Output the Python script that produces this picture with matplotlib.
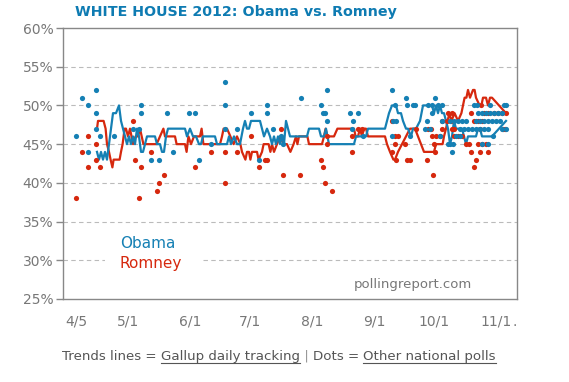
import matplotlib
matplotlib.use("Agg")
import matplotlib.pyplot as plt
from matplotlib.lines import Line2D
from matplotlib.patches import Rectangle

# x = days after April 5, 2012
tick_days = [0, 26, 57, 87, 118, 149, 179, 210]
tick_labels = ["4/5", "5/1", "6/1", "7/1", "8/1", "9/1", "10/1", "11/1"]
y_ticks = [25, 30, 35, 40, 45, 50, 55, 60]

# Gallup daily tracking (day, %)
obama_trend = [
    (10.5, 44), (11.5, 43), (12.5, 44), (13.5, 43), (14.5, 44), (15.5, 43), (16.5, 45),
    (17.5, 47), (18.5, 49), (20, 49), (21.5, 50), (22.5, 48), (23.5, 47), (24.5, 46),
    (25.5, 45), (26.5, 46), (27.5, 45), (28.5, 46), (29.5, 45), (30.5, 47), (31.5, 46),
    (32.5, 44), (33.5, 44), (34.5, 45), (35.5, 46), (39.5, 46), (40.5, 45), (42, 45),
    (43, 44), (44, 44), (45, 46), (46, 47), (54.5, 47), (55.5, 46), (57, 47), (58.5, 46),
    (60, 46), (61.5, 45), (62.5, 45), (63.5, 46), (69.5, 46), (70.5, 45), (75.5, 45),
    (76.5, 46), (77.5, 45), (79, 46), (80.5, 45), (82, 45), (83.5, 47), (84.5, 48),
    (85.5, 47), (86.5, 47), (87.5, 48), (92, 48), (93, 47), (94, 46), (95.5, 47),
    (97, 46), (98, 45), (99, 46), (100, 45), (101, 46), (102, 45), (103, 46), (104, 45),
    (105, 48), (106, 47), (107, 46), (115.5, 46), (116.5, 47), (121.5, 47), (122.5, 46),
    (124, 46), (125, 47), (125.7, 46), (126.5, 45), (139, 45), (140, 46), (145, 46),
    (146, 47), (154.5, 47), (155.5, 48), (156.5, 49), (158, 50), (160, 50), (161, 49),
    (162.5, 49), (163.5, 48), (165, 47), (166, 47), (167.5, 46), (168.5, 47), (170, 47),
    (172, 48), (173.5, 50), (178, 50), (179, 49), (180, 50), (181, 49), (182, 50),
    (183, 49), (184, 49), (185, 48), (186, 47), (187, 45), (188, 46), (189, 48),
    (190, 47), (193, 47), (194, 46), (195, 45), (196, 46), (200, 46), (201, 47),
    (202, 47), (203, 46), (208, 46), (215, 48),
]
romney_trend = [
    (10.5, 47), (11, 48), (13.8, 48), (14.8, 47), (15.5, 45), (16.5, 44), (17.3, 43),
    (18.2, 42), (18.8, 43), (21.8, 43), (22.5, 44), (23.3, 45), (24.3, 47), (25, 47),
    (26, 46), (27, 47), (28.5, 45), (29.8, 46), (31, 46), (32, 47), (33.7, 45), (40.3, 45),
    (42, 46), (43.7, 47), (44.5, 46), (49.5, 46), (50.3, 45), (54.5, 45), (55.3, 44),
    (56.2, 46), (57.5, 45), (59, 46), (62, 46), (62.8, 47), (63.7, 45), (72, 45), (73, 46),
    (73.8, 47), (75.5, 47), (77.2, 46), (78.8, 45), (80.5, 46), (82.2, 45), (83, 44),
    (84.7, 43), (85.5, 44), (86.5, 44), (87.2, 43), (88, 44), (90.5, 44), (91.3, 43),
    (93, 44), (93.8, 45), (96.3, 45), (97.2, 44), (98, 45), (99, 44), (100.5, 45),
    (102, 46), (103.8, 45), (105.5, 45), (107.2, 44), (108.8, 45), (110, 46), (110.7, 45),
    (111.5, 46), (115.7, 46), (116.5, 45), (123, 45), (124, 46), (124.8, 47), (125.7, 46),
    (129, 46), (130.7, 47), (139, 47), (139.8, 46), (141, 46), (142, 47), (143, 46),
    (144, 47), (145, 47), (146, 46), (154.5, 46), (155.5, 45), (157, 44), (158.7, 43),
    (159.5, 43), (161, 44), (163, 45), (165, 46), (167, 47), (169.5, 47), (171, 46),
    (172.5, 45), (174, 44), (179, 44), (180, 45), (183.3, 45), (184, 46), (185, 47),
    (185.8, 48), (186.7, 49), (187.7, 48), (189.3, 49), (191, 48), (192.7, 49), (193.5, 50),
    (194.3, 51), (195.2, 51), (196, 52), (197, 51), (198.5, 52), (199.3, 52), (200, 51),
    (201.8, 50), (202.7, 50), (203.5, 51), (205, 51), (206, 50), (207, 51), (208, 51),
    (215, 49),
]

# other national polls (day, %)
obama_polls = [
    (0, 46), (3, 51), (6, 50), (6, 44), (10, 52), (10, 49), (10, 47), (12, 46), (19, 46),
    (28.5, 47), (31.5, 47), (32.5, 50), (32.5, 49), (37.5, 43), (41.5, 43), (45.5, 49),
    (48.5, 44), (56.5, 49), (59.5, 49), (61.5, 43), (67.5, 45), (74.5, 53), (74.5, 50),
    (74.5, 47), (80.5, 47), (87.5, 49), (91.5, 43), (95.5, 50), (95.5, 49), (98.5, 47),
    (102.5, 46), (103.5, 45), (112.5, 51), (122.5, 50), (123.5, 49), (124.5, 49),
    (125.5, 52), (125.5, 48), (137, 49), (141, 49), (138.5, 48), (138, 47), (143.5, 46),
    (158, 52), (159.5, 50), (158.5, 48), (160, 48), (158, 46), (165, 51), (165.3, 50),
    (168.5, 50), (169.5, 50), (167, 46), (175.3, 48), (176, 50), (179.5, 51), (178, 50),
    (181, 50), (183, 50), (178, 49), (174.5, 47), (177, 47), (183, 48), (182, 46),
    (186, 45), (187, 45), (188, 44), (188.5, 45), (190, 46), (192, 46), (187, 48),
    (189, 48), (191, 48), (193, 48), (199, 50), (200.5, 50), (207, 50), (214, 50),
    (215, 50), (201, 49), (203, 49), (205, 49), (207, 49), (209, 49), (211, 49),
    (213, 49), (195, 48), (200, 48), (202, 48), (204, 48), (206, 48), (208, 48),
    (210, 48), (212, 48), (192, 47), (194, 47), (196, 47), (198, 47), (200, 47),
    (202, 47), (204, 47), (206, 47), (213, 47), (215, 47), (203, 45), (206, 45),
    (208.5, 46),
]
romney_polls = [
    (0, 38), (3, 44), (6, 46), (6, 42), (10, 45), (10, 43), (12, 42), (28.5, 48),
    (29.5, 43), (32.5, 42), (31.5, 38), (37.5, 44), (40.5, 39), (41.5, 40), (44, 41),
    (59.5, 42), (67.5, 44), (74.5, 44), (74.5, 40), (80.5, 44), (87.5, 46), (91.5, 42),
    (94.5, 43), (95.5, 43), (102.5, 47), (103.5, 41), (112, 41), (122.5, 43), (123.5, 42),
    (124.5, 40), (128, 39), (125.5, 46), (125.5, 45), (138, 44), (138, 46), (141, 47),
    (143, 47), (158, 48), (159.5, 45), (159.5, 46), (161, 46), (158, 44), (160, 43),
    (165.3, 43), (167, 43), (164.5, 45), (170, 47), (175.3, 43), (176, 47), (177.5, 47),
    (178.3, 41), (179, 45), (179.5, 44), (183, 48), (183, 47), (178, 46), (180, 46),
    (182, 46), (186, 49), (188, 49), (185.5, 48), (187.5, 48), (188, 47), (189, 47),
    (189, 46), (191, 46), (193, 46), (195, 45), (196.5, 45), (197.3, 49), (202.7, 50),
    (199, 42), (200, 43), (197.7, 44), (201.8, 44), (206, 44), (201, 45), (203, 45),
    (205, 45), (199, 48), (201, 48), (203, 48), (204, 49), (206, 49), (209, 49),
    (211, 49), (213, 49), (215, 49), (202, 47), (213.5, 47), (214.5, 47),
]

BLUE = "#1580b4"
RED = "#d6280e"
GRAY = "#888888"

fig = plt.figure(figsize=(5.69, 3.82), dpi=100)
ax = fig.add_axes([63 / 569, 1 - 299 / 382, 454 / 569, 271 / 382])

ax.set_xlim(-6.5, 220.5)
ax.set_ylim(25, 60)

for y in y_ticks[1:-1]:
    ax.axhline(y, color="#bbbbbb", lw=0.8, ls=(0, (4, 3)), zorder=0)

# white patch behind the legend text
ax.add_patch(Rectangle((0.093, 0.06), 0.215, 0.2, transform=ax.transAxes,
                       facecolor="white", edgecolor="none", zorder=1))

ax.plot([d for d, v in romney_trend], [v for d, v in romney_trend], color=RED, lw=1.6, zorder=3)
ax.plot([d for d, v in obama_trend], [v for d, v in obama_trend], color=BLUE, lw=1.6, zorder=3)
ax.scatter([d for d, v in romney_polls], [v for d, v in romney_polls], s=14, color=RED,
           linewidths=0, zorder=4)
ax.scatter([d for d, v in obama_polls], [v for d, v in obama_polls], s=14, color=BLUE,
           linewidths=0, zorder=5)

ax.set_yticks(y_ticks)
ax.set_yticklabels([f"{y}%" for y in y_ticks])
ax.set_xticks(tick_days)
ax.set_xticklabels(tick_labels)
ax.tick_params(axis="y", length=5, width=1, color=GRAY, labelcolor="#777777", labelsize=10, pad=2)
ax.tick_params(axis="x", length=0, labelcolor="#777777", labelsize=10, pad=11)
for sp in ax.spines.values():
    sp.set_color(GRAY)
    sp.set_linewidth(1)

ax.text(219.5, -0.06, ".", transform=ax.get_xaxis_transform(), color="#777777", fontsize=10,
        ha="center", va="top")

ax.text(0.125, 0.205, "Obama", transform=ax.transAxes, color=BLUE, fontsize=11, va="center", zorder=6)
ax.text(0.125, 0.13, "Romney", transform=ax.transAxes, color=RED, fontsize=11, va="center", zorder=6)
ax.text(0.64, 0.055, "pollingreport.com", transform=ax.transAxes, color="#777777", fontsize=9.5,
        va="center", zorder=6)

fig.text(75 / 569, 1 - 12 / 382, "WHITE HOUSE 2012: Obama vs. Romney", color="#0e7bb2",
         fontsize=10.3, fontweight="bold", va="center")

# footer with underlined links
footer_parts = [
    ("Trends lines = ", "#555555", False),
    ("Gallup daily tracking", "#555555", True),
    (" | ", "#999999", False),
    ("Dots = ", "#555555", False),
    ("Other national polls", "#555555", True),
]
fig.canvas.draw()
r = fig.canvas.get_renderer()
inv = fig.transFigure.inverted()
x = 62 / 569
yb = 1 - 360 / 382
for txt, col, ul in footer_parts:
    t = fig.text(x, yb, txt, color=col, fontsize=9.6, va="baseline")
    bb = t.get_window_extent(r)
    (x0, y0), (x1, y1) = inv.transform([[bb.x0, bb.y0], [bb.x1, bb.y1]])
    if ul:
        fig.add_artist(Line2D([x0, x1], [yb - 2.5 / 382] * 2, color=col, lw=0.8))
    x = x1

fig.savefig("out.png", dpi=100)
